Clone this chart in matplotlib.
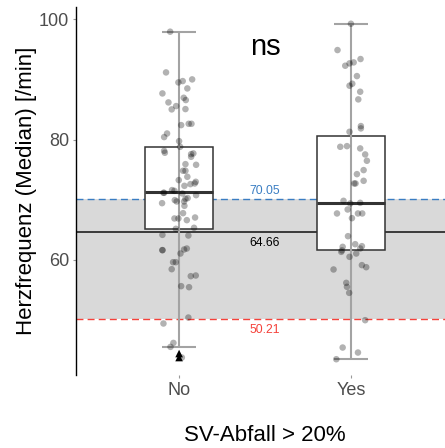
import matplotlib
matplotlib.use('Agg')
import matplotlib.pyplot as plt

plt.rcParams['font.family'] = ['Liberation Sans', 'DejaVu Sans']

groups = ['No', 'Yes']
positions = [1, 2]

# box statistics
q1 = [65.17, 61.63]
med = [71.26, 69.44]
q3 = [78.74, 80.62]
whislo = [45.57, 43.52]
whishi = [97.9, 99.22]

# reference lines
upper_ref = 70.05
mean_ref = 64.66
lower_ref = 50.21

# jittered points (value, horizontal offset)
no_vals = [97.9, 91.14, 87.65, 86.16, 85.0, 85.55, 89.7, 89.48, 89.98, 88.48,
           86.93, 86.55, 85.05, 82.39, 82.61, 82.61, 80.4, 81.0, 79.73, 78.79,
           78.13, 77.8, 77.57, 77.13, 77.69, 75.8, 75.91, 74.81, 74.81, 73.81,
           72.98, 72.7, 72.59, 73.26, 72.31, 71.6, 71.15, 71.15, 71.48, 71.04,
           70.15, 70.27, 69.93, 69.71, 69.71, 70.76, 69.43, 68.99, 67.77, 67.05,
           66.89, 66.89, 66.61, 65.17, 65.34, 64.17, 64.06, 61.63, 61.63, 61.9,
           61.74, 61.07, 59.63, 59.63, 58.47, 57.31, 57.42, 55.65, 55.48, 50.44,
           49.45, 46.23, 45.57, 43.8]
no_jit = [-0.052, -0.076, -0.097, -0.062, -0.043, -0.017, 0.021, -0.004, 0.076, 0.048,
          0.027, 0.039, 0.037, 0.012, 0.056, 0.072, -0.087, -0.070, 0.0, 0.006,
          -0.087, -0.083, 0.070, 0.070, 0.083, 0.099, 0.037, 0.023, 0.037, 0.048,
          0.097, 0.091, 0.066, -0.002, 0.031, -0.041, -0.091, -0.087, -0.027, 0.019,
          0.037, 0.050, -0.025, -0.014, 0.029, 0.099, -0.099, 0.031, 0.023, 0.093,
          -0.027, -0.004, 0.045, -0.019, 0.087, -0.097, 0.054, -0.097, -0.097, 0.045,
          0.029, 0.008, -0.035, -0.019, -0.043, 0.068, 0.097, 0.012, 0.058, 0.054,
          -0.091, -0.033, -0.050, 0.016]

yes_vals = [99.22, 94.85, 92.25, 92.64, 92.8, 93.36, 90.53, 89.26, 88.93, 87.93,
            86.66, 82.23, 81.84, 81.28, 78.79, 78.9, 78.52, 77.52, 76.47, 74.92,
            74.25, 72.7, 72.7, 73.14, 69.82, 69.38, 69.49, 68.38, 67.72, 67.72,
            67.72, 66.94, 63.95, 62.18, 62.62, 62.29, 61.9, 61.35, 61.6, 61.07,
            60.52, 58.42, 59.14, 58.8, 56.2, 55.54, 54.54, 50.0, 45.46, 44.63, 43.52]
yes_jit = [0.0, -0.078, -0.033, -0.008, 0.016, 0.056, 0.035, 0.008, -0.008, 0.054,
           0.043, 0.058, 0.058, -0.008, -0.062, -0.023, 0.054, 0.083, 0.093, 0.074,
           0.035, 0.019, 0.027, 0.074, -0.043, -0.004, 0.054, -0.019, -0.081, 0.041,
           0.066, 0.006, -0.017, -0.048, 0.025, 0.064, 0.054, -0.056, -0.052, 0.031,
           -0.008, -0.101, 0.064, 0.089, -0.027, -0.023, -0.010, 0.083, -0.048, 0.041, -0.085]

# outliers marked as triangles (No group)
tri_vals = [44.46, 43.8]

fig = plt.figure(figsize=(4.45, 4.48), dpi=100)
ax = fig.add_axes([76 / 445, (448 - 375) / 448, (454 - 76) / 445, 368 / 448])

ax.axhspan(lower_ref, upper_ref, color='#d9d9d9', lw=0, zorder=0)
ax.axhline(upper_ref, color='#3a7dc2', ls=(0, (5, 3)), lw=1.0, zorder=1)
ax.axhline(lower_ref, color='#f5413a', ls=(0, (5, 3)), lw=1.0, zorder=1)
ax.axhline(mean_ref, color='#3a3a3a', lw=1.4, zorder=1)

stats = []
for i in range(2):
    stats.append({'q1': q1[i], 'med': med[i], 'q3': q3[i],
                  'whislo': q1[i], 'whishi': q3[i], 'fliers': []})
ax.bxp(stats, positions=positions, widths=0.4, patch_artist=True,
       showcaps=False, showfliers=False,
       boxprops=dict(facecolor='white', edgecolor='#333333', lw=1.1, zorder=2),
       medianprops=dict(color='#333333', lw=2.2, zorder=3.5),
       whiskerprops=dict(lw=0))

ax.vlines(positions, whislo, whishi, color='#a3a3a3', lw=1.5, zorder=3)
for p, lo, hi in zip(positions, whislo, whishi):
    ax.hlines([lo, hi], p - 0.1, p + 0.1, color='#a3a3a3', lw=1.5, zorder=3)

ax.scatter([1 + j for j in no_jit], no_vals, s=22, color='black', alpha=0.3,
           edgecolors='none', zorder=4)
ax.scatter([2 + j for j in yes_jit], yes_vals, s=22, color='black', alpha=0.3,
           edgecolors='none', zorder=4)
ax.scatter([1] * len(tri_vals), tri_vals, marker='^', s=30, color='black',
           edgecolors='none', zorder=5)

ax.annotate(f'{upper_ref:.2f}', (1.5, upper_ref), xytext=(0, 2), textcoords='offset points',
            ha='center', va='bottom', color='#3a7dc2', fontsize=8.8)
ax.annotate(f'{mean_ref:.2f}', (1.5, mean_ref), xytext=(0, -3.5), textcoords='offset points',
            ha='center', va='top', color='black', fontsize=8.8)
ax.annotate(f'{lower_ref:.2f}', (1.5, lower_ref), xytext=(0, -3.3), textcoords='offset points',
            ha='center', va='top', color='#f5413a', fontsize=8.8)
ax.text(1.5, 95.4, 'ns', ha='center', va='center', fontsize=21, color='black')

ax.set_xlim(0.4, 2.6)
ax.set_ylim(40.9, 102.0)
ax.set_xticks(positions)
ax.set_xticklabels(groups)
ax.set_yticks([60, 80, 100])
ax.tick_params(axis='both', length=2, width=0.8, color='#999999',
               labelsize=13, labelcolor='#4d4d4d', pad=3)
for s in ['top', 'right', 'bottom']:
    ax.spines[s].set_visible(False)
ax.spines['left'].set_linewidth(1.0)
ax.spines['left'].set_color('black')

ax.set_xlabel('SV-Abfall > 20%', fontsize=16, labelpad=19)
ax.set_ylabel('Herzfrequenz (Median) [/min]', fontsize=16, labelpad=1.5)

fig.savefig('out.png', dpi=100)
